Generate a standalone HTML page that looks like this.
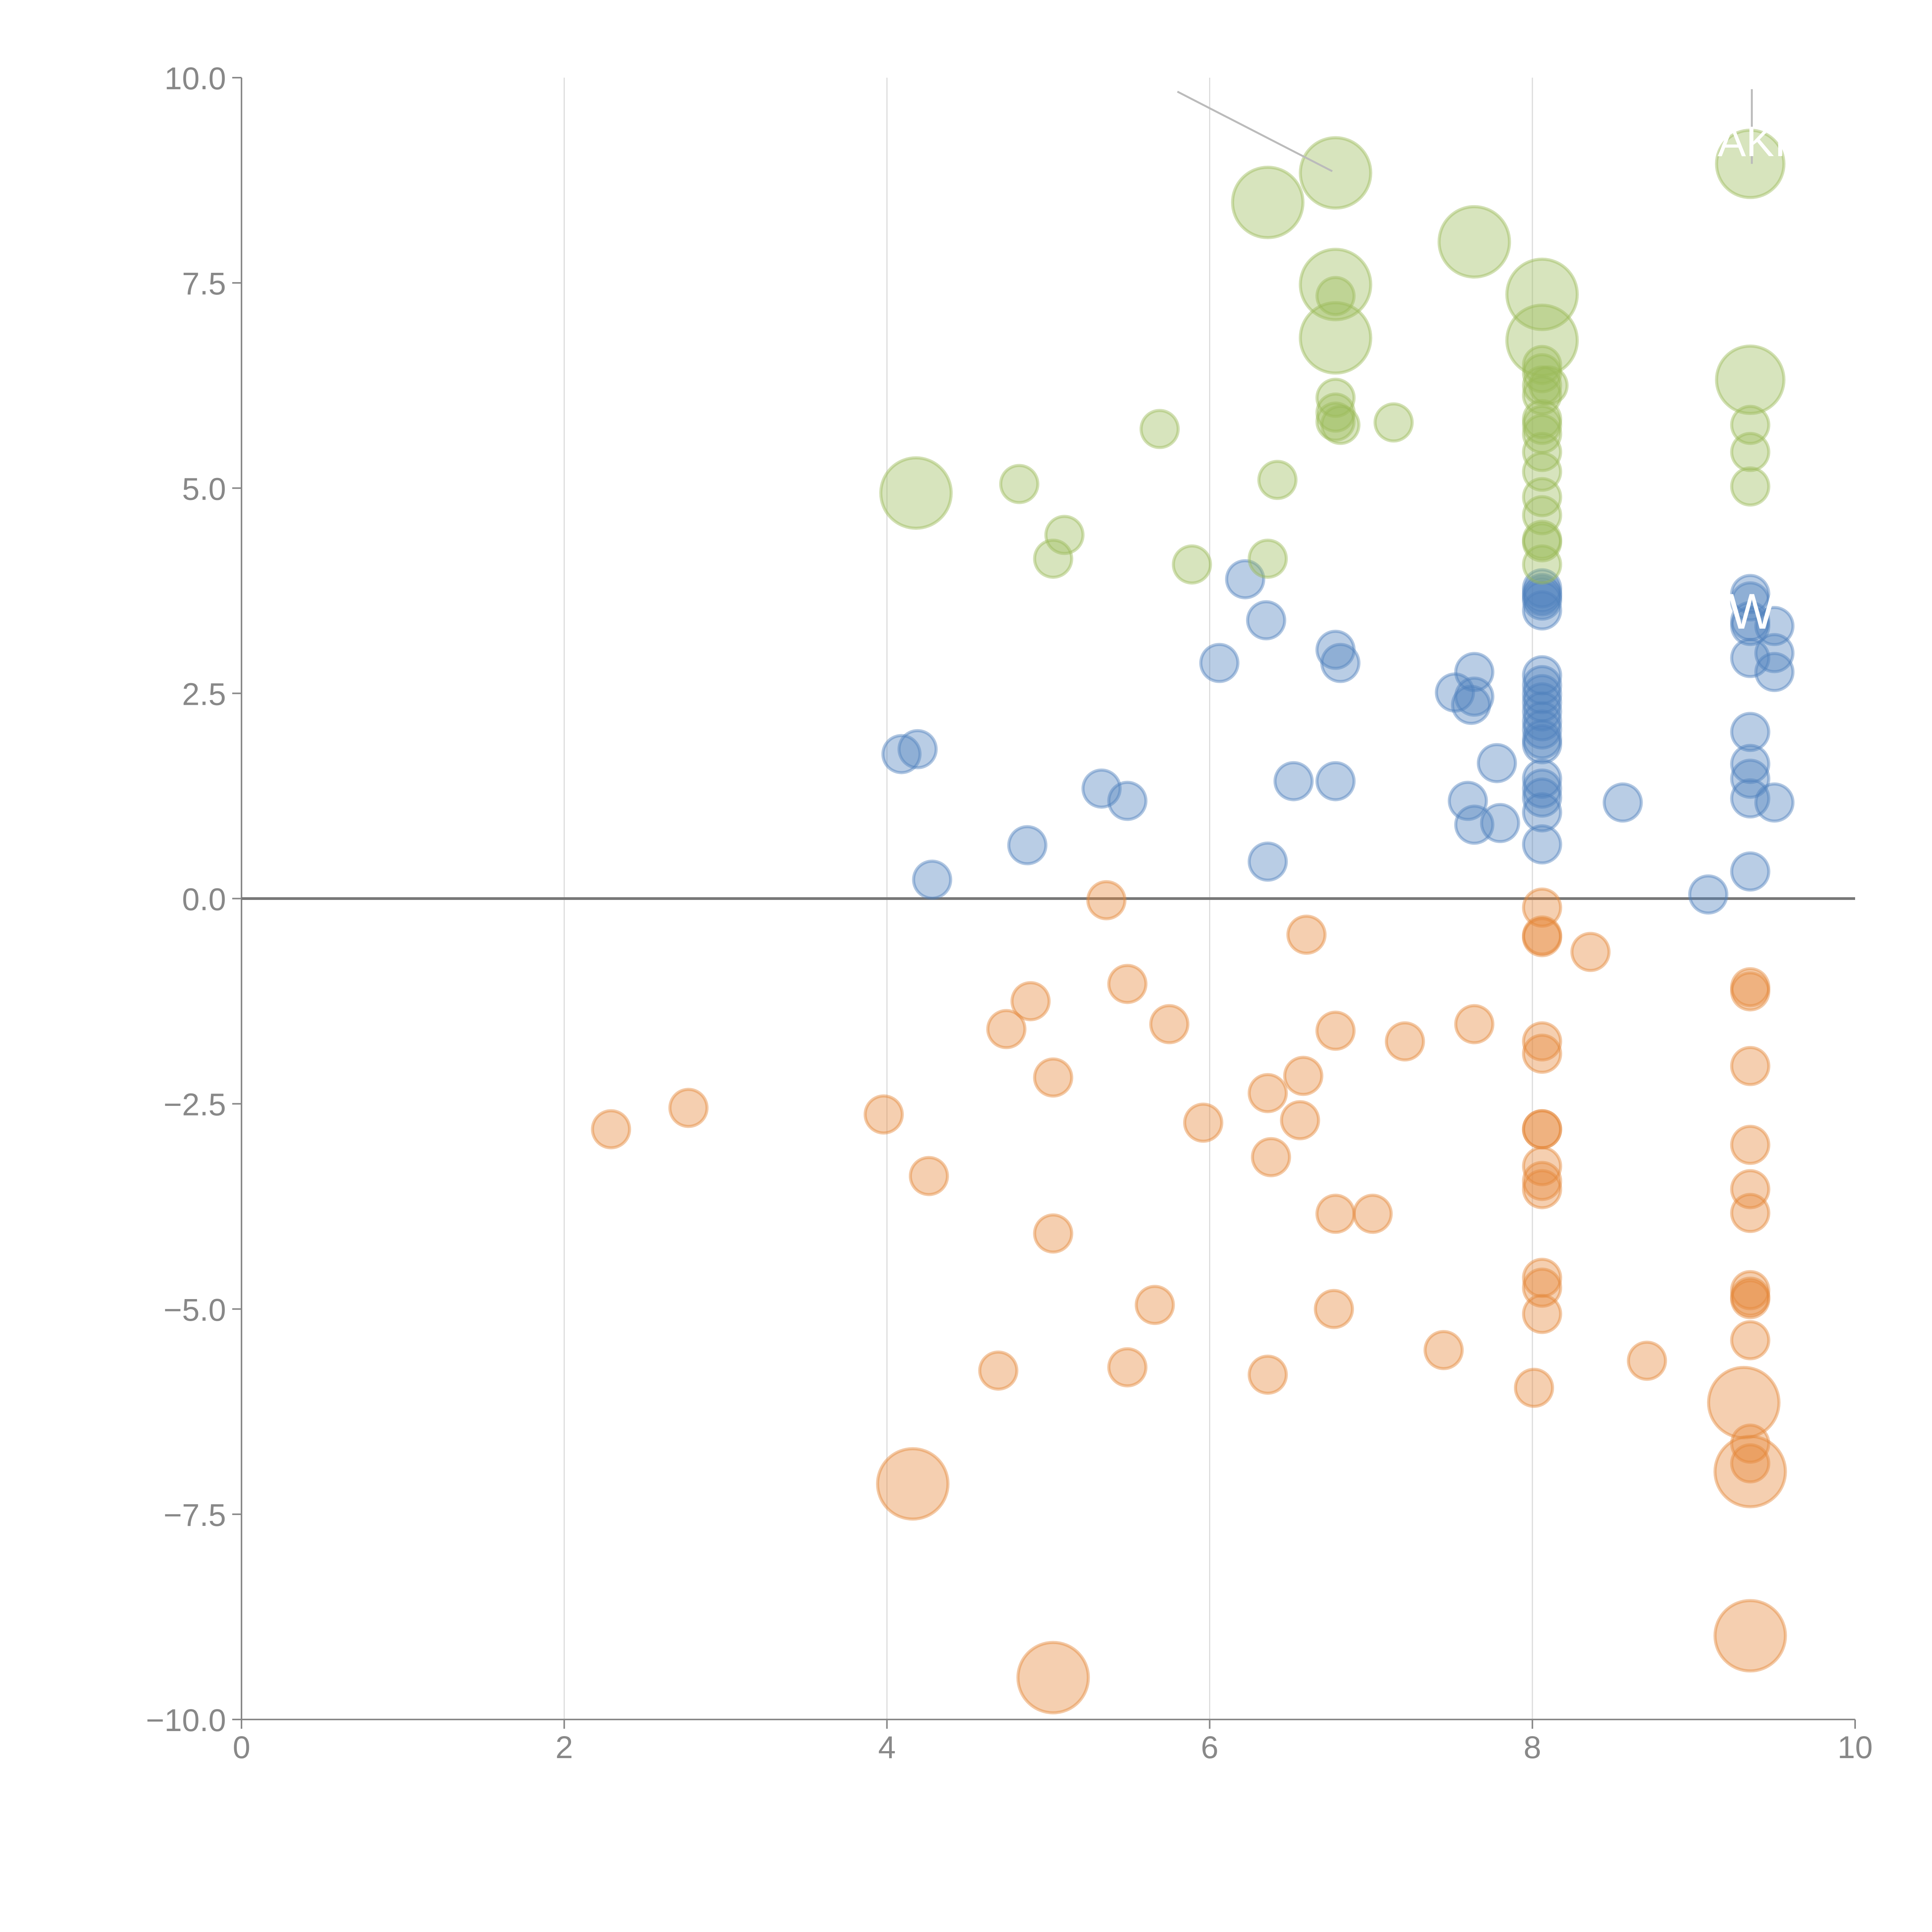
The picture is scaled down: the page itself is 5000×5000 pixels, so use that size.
<!DOCTYPE html>
<html><head><meta charset="utf-8"><style>html,body{margin:0;padding:0;background:#fff}svg{display:block}</style></head>
<body>
<svg id="chart" width="5000" height="5000" viewBox="0 0 5000 5000" xmlns="http://www.w3.org/2000/svg" font-family="'Liberation Sans', sans-serif">
<g id="grid"></g>
<g id="axes"></g>
<g id="marks"></g>
<g id="annot"></g>
</svg>
<script>
const xTicks=[0,2,4,6,8,10];
const yTicks=[10,7.5,5,2.5,0,-2.5,-5,-7.5,-10];
const yTickLabels=["10.0","7.5","5.0","2.5","0.0","\u22122.5","\u22125.0","\u22127.5","\u221210.0"];
const greenX=[6.78,6.36,7.64,6.78,8.06,6.78,8.06,9.35,9.35,4.18,6.78,6.78,6.78,6.78,6.81,7.14,5.69,4.82,6.42,5.10,5.03,5.89,6.36,8.06,8.06,8.06,8.06,8.06,8.06,8.06,8.06,8.06,8.06,8.06,8.06,8.06,8.06,8.1,9.35,9.35,9.35];
const greenY=[8.84,8.48,8.0,7.48,7.36,6.83,6.80,8.95,6.32,4.94,7.34,6.10,5.92,5.81,5.77,5.80,5.72,5.05,5.10,4.43,4.14,4.07,4.14,6.50,6.40,6.25,6.13,5.84,5.77,5.66,5.44,5.20,4.89,4.67,4.37,4.34,4.07,6.25,5.77,5.44,5.02];
const greenS=[3.6,3.6,3.6,3.6,3.6,3.6,3.6,3.3,3.3,3.6,1,1,1,1,1,1,1,1,1,1,1,1,1,1,1,1,1,1,1,1,1,1,1,1,1,1,1,1,1,1,1];
const blueX=[8.06,8.06,8.06,8.06,8.06,8.06,8.06,8.06,8.06,8.06,8.06,8.06,8.06,8.06,8.06,8.06,8.06,8.06,8.06,6.22,6.35,6.78,6.81,6.06,7.64,7.52,7.64,7.62,7.78,7.60,7.64,7.80,8.56,6.52,6.78,6.36,5.33,5.49,4.87,4.28,4.09,4.19,9.09,9.35,9.35,9.35,9.35,9.35,9.35,9.35,9.35,9.35,9.35,9.5,9.5,9.5,9.5];
const blueY=[3.78,3.72,3.68,3.63,3.51,2.72,2.60,2.49,2.39,2.28,2.16,2.06,1.94,1.88,1.46,1.34,1.23,1.05,0.66,3.89,3.39,3.03,2.87,2.87,2.76,2.51,2.46,2.36,1.65,1.19,0.90,0.92,1.17,1.43,1.43,0.45,1.34,1.19,0.65,0.23,1.76,1.82,0.05,3.71,3.62,3.38,3.32,2.93,2.03,1.64,1.46,1.22,0.33,3.32,2.99,2.76,1.17];
const orangeX=[5.36,6.60,8.36,5.49,4.89,4.74,5.75,6.78,7.64,7.21,5.03,6.58,6.36,2.29,2.77,3.98,5.96,6.56,6.38,4.26,6.78,7.01,5.03,5.66,6.77,7.45,8.71,4.69,5.49,6.36,8.01,8.06,8.06,8.06,8.06,8.06,8.06,8.06,8.06,8.06,8.06,8.06,8.06,8.06,9.35,9.35,9.35,9.35,9.35,9.35,9.35,9.35,9.35,9.35,9.35,9.35,4.16,5.03,9.31,9.35,9.35];
const orangeY=[-0.02,-0.44,-0.65,-1.04,-1.25,-1.59,-1.53,-1.61,-1.53,-1.74,-2.18,-2.16,-2.37,-2.81,-2.55,-2.63,-2.73,-2.70,-3.15,-3.38,-3.84,-3.84,-4.08,-4.95,-5.0,-5.50,-5.63,-5.75,-5.71,-5.80,-5.96,-0.11,-0.45,-0.47,-1.74,-1.89,-2.81,-2.81,-3.26,-3.44,-3.54,-4.62,-4.74,-5.06,-1.08,-1.13,-2.04,-3.0,-3.54,-3.83,-4.77,-4.85,-4.88,-5.38,-6.64,-6.88,-7.13,-9.49,-6.14,-6.98,-8.98];
const orangeS=orangeX.map((_,i)=>i>=56?3.6:1);
const blueS=blueX.map(()=>1);

const NS="http://www.w3.org/2000/svg";
const X0=625,X1=4801,YT=201,YB=4450;
function sx(v){return X0+(v-0)/(10-0)*(X1-X0);}
function sy(v){return YB-(v-(-10))/(20)*(YB-YT);}
function mk(tag,attrs,parent){const e=document.createElementNS(NS,tag);for(const k in attrs)e.setAttribute(k,attrs[k]);parent.appendChild(e);return e;}
const grid=document.getElementById('grid'),axes=document.getElementById('axes'),marks=document.getElementById('marks'),annot=document.getElementById('annot');

xTicks.forEach(t=>{
  if(t>0&&t<10){const l=mk('line',{x1:sx(t),x2:sx(t),y1:YT,y2:YB,stroke:'#dcdcdc','stroke-width':3},grid);
  
  }
  const tk=mk('line',{x1:sx(t),x2:sx(t),y1:YB,y2:YB+24,stroke:'#888','stroke-width':4},axes);
  
  
  const tx=mk('text',{x:sx(t),y:YB+100,'text-anchor':'middle','font-size':82,fill:'#888'},axes);
  tx.textContent=String(t);
  
  
});
yTicks.forEach((t,i)=>{
  const tk=mk('line',{x1:X0-24,x2:X0,y1:sy(t),y2:sy(t),stroke:'#888','stroke-width':4},axes);
  
  
  const tx=mk('text',{x:X0-40,y:sy(t)+30,'text-anchor':'end','font-size':82,fill:'#888'},axes);
  tx.textContent=yTickLabels[i];
  
  
});
const ya=mk('line',{x1:X0,x2:X0,y1:YT,y2:YB,stroke:'#888','stroke-width':4},axes);


const xa=mk('line',{x1:X0,x2:X1,y1:YB,y2:YB,stroke:'#888','stroke-width':4},axes);


const zl=mk('line',{x1:X0,x2:X1,y1:sy(0),y2:sy(0),stroke:'#777','stroke-width':7},axes);



function series(xs,ys,ss,col,name){
  xs.forEach((x,i)=>{
    const c=mk('circle',{cx:sx(x),cy:sy(ys[i]),r:48*Math.sqrt(ss[i]),fill:col,'fill-opacity':0.4,stroke:col,'stroke-opacity':0.45,'stroke-width':8},marks);
    
    
  });
}
series(orangeX,orangeY,orangeS,'#e5873a','bubble-negative');
series(blueX,blueY,blueS,'#4f81bd','bubble-low');
series(greenX,greenY,greenS,'#9bbb59','bubble-high');

const l1=mk('line',{x1:sx(5.8),y1:sy(9.83),x2:sx(6.76),y2:sy(8.86),stroke:'#bbb','stroke-width':5},annot);


const l2=mk('line',{x1:sx(9.36),y1:sy(9.86),x2:sx(9.36),y2:sy(8.95),stroke:'#bbb','stroke-width':5},annot);


const t1=mk('text',{x:sx(9.36),y:sy(8.95)-20,'text-anchor':'middle','font-size':110,fill:'#fff'},annot);
t1.textContent='AKI';


const t2=mk('text',{x:sx(9.36),y:sy(3.5)+45,'text-anchor':'middle','font-size':130,fill:'#fff'},annot);
t2.textContent='W';


</script>
</body></html>
